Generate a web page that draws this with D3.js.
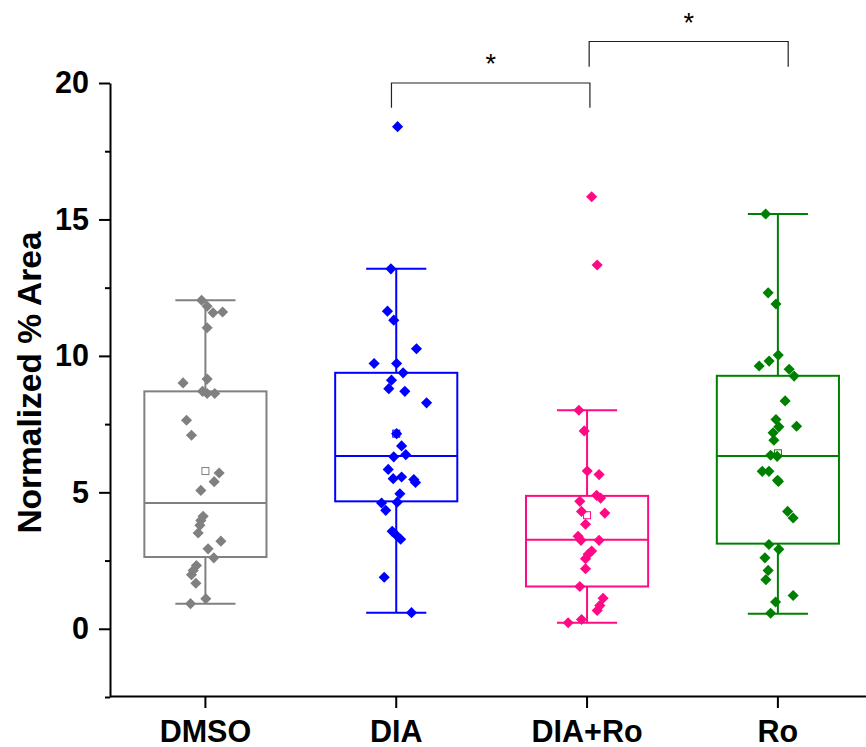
<!DOCTYPE html>
<html>
<head>
<meta charset="utf-8">
<script src="https://cdn.jsdelivr.net/npm/d3@7"></script>
<style>
body{margin:0;background:#fff;}
text{font-family:"Liberation Sans",Arial,sans-serif;}
</style>
</head>
<body>
<div id="chart"></div>
<script>
// data
let categories = ['DMSO', 'DIA', 'DIA+Ro', 'Ro'];
let colors = ['#808080', '#0000ff', '#ff0a85', '#008000'];

// box stats: [whisker low, q1, median, q3, whisker high, mean]
let boxStats = [
    [0.92, 2.63, 4.61, 8.70, 12.04, 5.78],
    [0.59, 4.67, 6.33, 9.38, 13.19, 7.15],
    [0.22, 1.55, 3.26, 4.87, 8.01, 4.16],
    [0.55, 3.12, 6.33, 9.27, 15.20, 6.43]
];

let dmsoValues = [12.04,11.82,11.58,11.61,11.03,9.15,9.01,8.70,8.62,8.62,7.64,7.09,5.71,5.39,5.07,4.12,3.97,3.79,3.51,3.21,2.93,2.60,2.32,2.14,1.98,1.67,1.10,0.92];
let dmsoJitter = [-0.020,0.009,0.040,0.090,0.009,0.009,-0.117,-0.015,0.009,0.049,-0.099,-0.073,0.072,0.046,-0.024,-0.012,-0.024,-0.029,-0.038,0.081,0.014,0.044,-0.047,-0.064,-0.073,-0.050,0.002,-0.078];

let diaValues = [18.40,13.19,11.64,11.31,10.26,9.72,9.72,9.38,9.11,8.80,8.70,8.28,7.15,6.70,6.30,6.38,5.84,5.50,5.56,5.47,5.36,4.95,4.64,4.61,4.34,3.57,3.42,3.28,1.89,0.59];
let diaJitter = [0.007,-0.028,-0.046,-0.013,0.106,-0.116,0.002,0.036,-0.025,-0.039,0.045,0.159,0.002,0.028,-0.013,0.050,-0.042,-0.016,0.028,0.092,0.101,0.019,0.005,-0.077,-0.055,-0.021,0.002,0.023,-0.063,0.080];

let diaRoValues = [15.83,13.33,8.01,7.25,5.78,5.65,4.89,4.79,4.67,4.30,4.24,3.83,3.39,3.24,3.24,2.85,2.73,2.57,2.20,1.55,1.12,0.85,0.67,0.34,0.22];
let diaRoJitter = [0.024,0.053,-0.043,-0.015,0.001,0.063,0.050,0.071,-0.038,-0.029,0.093,-0.008,-0.047,-0.032,0.063,0.024,0.006,-0.008,-0.008,-0.038,0.084,0.067,0.053,-0.029,-0.099];

let roValues = [15.20,12.31,11.90,10.03,9.81,9.63,9.51,9.26,8.35,7.67,7.40,7.42,7.18,6.91,6.36,6.32,5.77,5.77,5.44,5.40,4.30,4.06,3.09,2.91,2.60,2.14,1.80,1.22,0.98,0.57];
let roJitter = [-0.064,-0.051,-0.010,0.002,-0.046,-0.098,0.059,0.085,0.038,-0.010,0.005,0.098,-0.025,-0.021,-0.038,-0.004,-0.082,-0.047,-0.002,0.003,0.051,0.080,-0.047,0.005,-0.068,-0.051,-0.063,0.080,-0.012,-0.038];

let groupValues = [dmsoValues, diaValues, diaRoValues, roValues];
let groupJitter = [dmsoJitter, diaJitter, diaRoJitter, roJitter];

let yMajorTicks = [0, 5, 10, 15, 20];
let yMinorTicks = [-2.5, 2.5, 7.5, 12.5, 17.5];

// significance brackets: [from, to, from offset, to offset, bracket y, leg y, label]
let brackets = [
    ['DIA', 'DIA+Ro', -0.025, 0.015, 20.0, 19.09, '*'],
    ['DIA+Ro', 'Ro', 0.011, 0.054, 21.52, 20.6, '*']
];

let W = 866, H = 747;
let svg = d3.select('#chart').append('svg')
    .attr('width', W).attr('height', H);

let sclX = d3.scaleBand().domain(categories).range([110, 873.3]).padding(0);
let sclY = d3.scaleLinear().domain([-2.5, 20]).range([697, 83]);
let step = sclX.step();
let cx = c => sclX(c) + sclX.bandwidth()/2;

let boxW = step*0.64, capW = step*0.315;

// boxes
let grp = svg.selectAll('g.box').data(categories)
    .enter().append('g')
    .attr('class', 'box')
    .attr('stroke', (d,i) => colors[i])
    .attr('stroke-width', 2)
    .attr('fill', 'none');

grp.append('line')
    .attr('x1', d => cx(d)).attr('x2', d => cx(d))
    .attr('y1', (d,i) => sclY(boxStats[i][0])).attr('y2', (d,i) => sclY(boxStats[i][1]));
grp.append('line')
    .attr('x1', d => cx(d)).attr('x2', d => cx(d))
    .attr('y1', (d,i) => sclY(boxStats[i][3])).attr('y2', (d,i) => sclY(boxStats[i][4]));
[0, 4].forEach(k => {
    grp.append('line')
        .attr('x1', d => cx(d) - capW/2).attr('x2', d => cx(d) + capW/2)
        .attr('y1', (d,i) => sclY(boxStats[i][k])).attr('y2', (d,i) => sclY(boxStats[i][k]));
});
grp.append('rect')
    .attr('x', d => cx(d) - boxW/2)
    .attr('y', (d,i) => sclY(boxStats[i][3]))
    .attr('width', boxW)
    .attr('height', (d,i) => sclY(boxStats[i][1]) - sclY(boxStats[i][3]));
grp.append('line')
    .attr('x1', d => cx(d) - boxW/2).attr('x2', d => cx(d) + boxW/2)
    .attr('y1', (d,i) => sclY(boxStats[i][2])).attr('y2', (d,i) => sclY(boxStats[i][2]));

// mean marker (under the points)
grp.append('rect')
    .attr('x', d => cx(d) - 3.5)
    .attr('y', (d,i) => sclY(boxStats[i][5]) - 3.5)
    .attr('width', 7).attr('height', 7)
    .attr('stroke-width', 1)
    .attr('fill', '#fff');

// jittered points
let diamond = d3.symbol(d3.symbolSquare, 62);
categories.forEach((c,i) => {
    svg.append('g').selectAll('path').data(groupValues[i])
        .enter().append('path')
        .attr('d', diamond)
        .attr('transform', (v,j) => 'translate(' + (cx(c) + groupJitter[i][j]*step) + ',' + sclY(v) + ') rotate(45)')
        .attr('fill', colors[i]);
});

// axes
svg.append('g')
    .attr('transform', 'translate(110,0)')
    .call(d3.axisLeft(sclY).tickValues(yMajorTicks).tickSize(11).tickSizeOuter(0).tickPadding(10).tickFormat(d3.format('d')));
svg.append('g')
    .attr('transform', 'translate(110,0)')
    .call(d3.axisLeft(sclY).tickValues(yMinorTicks).tickSize(5).tickSizeOuter(0).tickFormat(''))
    .select('.domain').remove();
svg.append('g')
    .attr('transform', 'translate(0,696)')
    .call(d3.axisBottom(sclX).tickSize(12).tickSizeOuter(0).tickPadding(12));

svg.selectAll('.domain, .tick line')
    .attr('stroke', '#000')
    .attr('stroke-width', 2);
svg.selectAll('.tick text')
    .attr('fill', '#000')
    .style('font-size', '30.5px')
    .style('font-weight', 'bold');

svg.append('text')
    .attr('transform', 'translate(41,382.5) rotate(-90)')
    .attr('text-anchor', 'middle')
    .style('font-size', '33.5px')
    .style('font-weight', 'bold')
    .text('Normalized % Area');

// significance brackets
let brk = svg.selectAll('g.brk').data(brackets)
    .enter().append('g')
    .attr('class', 'brk');
brk.append('path')
    .attr('d', d => {
        let x1 = cx(d[0]) + d[2]*step, x2 = cx(d[1]) + d[3]*step;
        return 'M' + x1 + ',' + sclY(d[5]) + 'V' + sclY(d[4]) + 'H' + x2 + 'V' + sclY(d[5]);
    })
    .attr('fill', 'none')
    .attr('stroke', '#222')
    .attr('stroke-width', 1.2);
brk.append('text')
    .attr('x', d => (cx(d[0]) + d[2]*step + cx(d[1]) + d[3]*step)/2)
    .attr('y', d => sclY(d[4]) - 10)
    .attr('text-anchor', 'middle')
    .style('font-size', '27px')
    .text(d => d[6]);
</script>
</body>
</html>
